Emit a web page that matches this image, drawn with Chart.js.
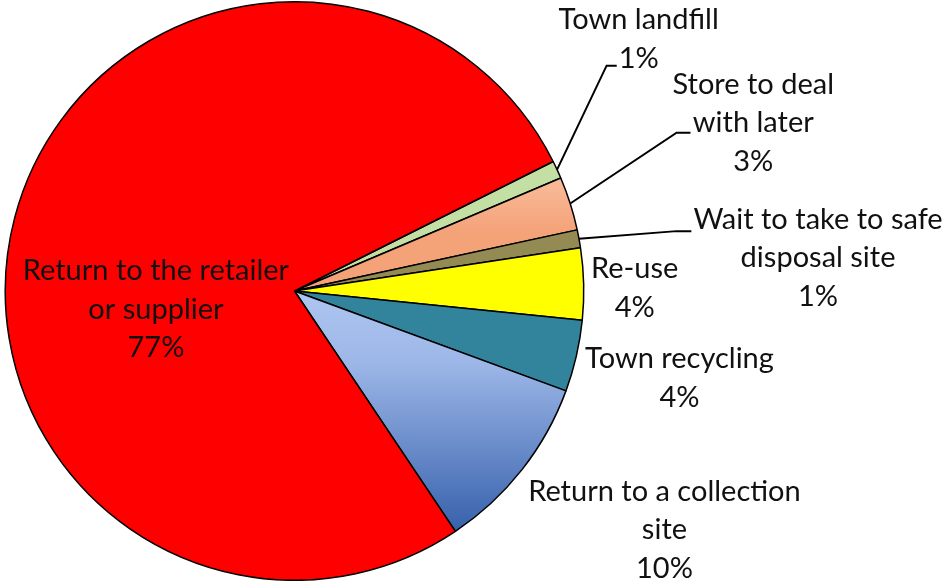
<!DOCTYPE html>
<html>
<head>
<meta charset="utf-8">
<script src="https://cdn.jsdelivr.net/npm/chart.js@4.4.1/dist/chart.umd.min.js"></script>
<style>
  html, body { margin: 0; padding: 0; background: #fff; }
  #wrap { width: 947px; height: 581px; }
</style>
</head>
<body>
<div id="wrap"><canvas id="pie"></canvas></div>
<script>
const categories = [
    'Town landfill',
    'Store to deal with later',
    'Wait to take to safe disposal site',
    'Re-use',
    'Town recycling',
    'Return to a collection site',
    'Return to the retailer or supplier'
];
const shares = [1, 3, 1, 4, 4, 10, 77];
const labelLines = [
    ['Town landfill', '1%'],
    ['Store to deal', 'with later', '3%'],
    ['Wait to take to safe', 'disposal site', '1%'],
    ['Re-use', '4%'],
    ['Town recycling', '4%'],
    ['Return to a collection', 'site', '10%'],
    ['Return to the retailer', 'or supplier', '77%']
];
const sliceColors = ['#C3DFA4', 'salmon', '#948A54', '#FFFF00', '#31849B', 'blue', '#FF0000'];

// label placement in units of the pie radius, relative to the centre
// elbow/endX describe the leader line (if any)
const placement = [
    { x: 1.19, y: -0.938, elbow: [1.079, -0.779], endX: 1.114 },
    { x: 1.586, y: -0.714, elbow: [1.321, -0.547], endX: 1.369 },
    { x: 1.81, y: -0.248, elbow: [1.321, -0.207], endX: 1.372 },
    { x: 1.176, y: -0.076 },
    { x: 1.331, y: 0.234 },
    { x: 1.279, y: 0.693 },
    { x: -0.479, y: -0.069 }
];

function fillFor(ctx) {
    const c = sliceColors[ctx.dataIndex];
    if (c !== 'salmon' && c !== 'blue') return c;
    const chart = ctx.chart;
    const area = chart.chartArea;
    if (!area || !Number.isFinite(area.top)) return c === 'salmon' ? '#F9B18A' : '#7F9FD0';
    const cy = (area.top + area.bottom) / 2;
    const r = (area.bottom - area.top) / 2;
    let g;
    if (c === 'salmon') {
        g = chart.ctx.createLinearGradient(0, cy - 0.45 * r, 0, cy - 0.2 * r);
        g.addColorStop(0, '#FAC4A6');
        g.addColorStop(1, '#F4A278');
    } else {
        g = chart.ctx.createLinearGradient(0, cy, 0, cy + 0.82 * r);
        g.addColorStop(0, '#AEC5F0');
        g.addColorStop(0.3, '#9DB7E8');
        g.addColorStop(1, '#3862AC');
    }
    return g;
}

const pieLabels = {
    id: 'pieLabels',
    afterDatasetsDraw(chart) {
        const ctx = chart.ctx;
        const meta = chart.getDatasetMeta(0);
        ctx.save();
        ctx.font = '29px Lato, "Liberation Sans", sans-serif';
        ctx.fillStyle = '#111';
        ctx.strokeStyle = '#000';
        ctx.lineWidth = 2;
        ctx.textAlign = 'center';
        ctx.textBaseline = 'middle';
        meta.data.forEach((arc, i) => {
            const r = arc.outerRadius;
            const p = placement[i];
            if (p.elbow) {
                const mid = (arc.startAngle + arc.endAngle) / 2;
                ctx.beginPath();
                ctx.moveTo(arc.x + Math.cos(mid) * r, arc.y + Math.sin(mid) * r);
                ctx.lineTo(arc.x + p.elbow[0] * r, arc.y + p.elbow[1] * r);
                ctx.lineTo(arc.x + p.endX * r, arc.y + p.elbow[1] * r);
                ctx.stroke();
            }
            labelLines[i].forEach((t, k) => {
                ctx.fillText(t, arc.x + p.x * r, arc.y + p.y * r + k * 38.5);
            });
        });
        ctx.restore();
    }
};

new Chart(document.getElementById('pie').getContext('2d'), {
    type: 'pie',
    data: {
        labels: categories,
        datasets: [{
            data: shares,
            backgroundColor: fillFor,
            borderColor: '#000',
            borderWidth: 1.5
        }]
    },
    options: {
        responsive: true,
        maintainAspectRatio: false,
        animation: false,
        rotation: 63.4,
        layout: { padding: { left: 4, right: 362, top: 1, bottom: 0 } },
        plugins: {
            legend: { display: false },
            tooltip: { enabled: false }
        },
        events: []
    },
    plugins: [pieLabels]
});
</script>
</body>
</html>
